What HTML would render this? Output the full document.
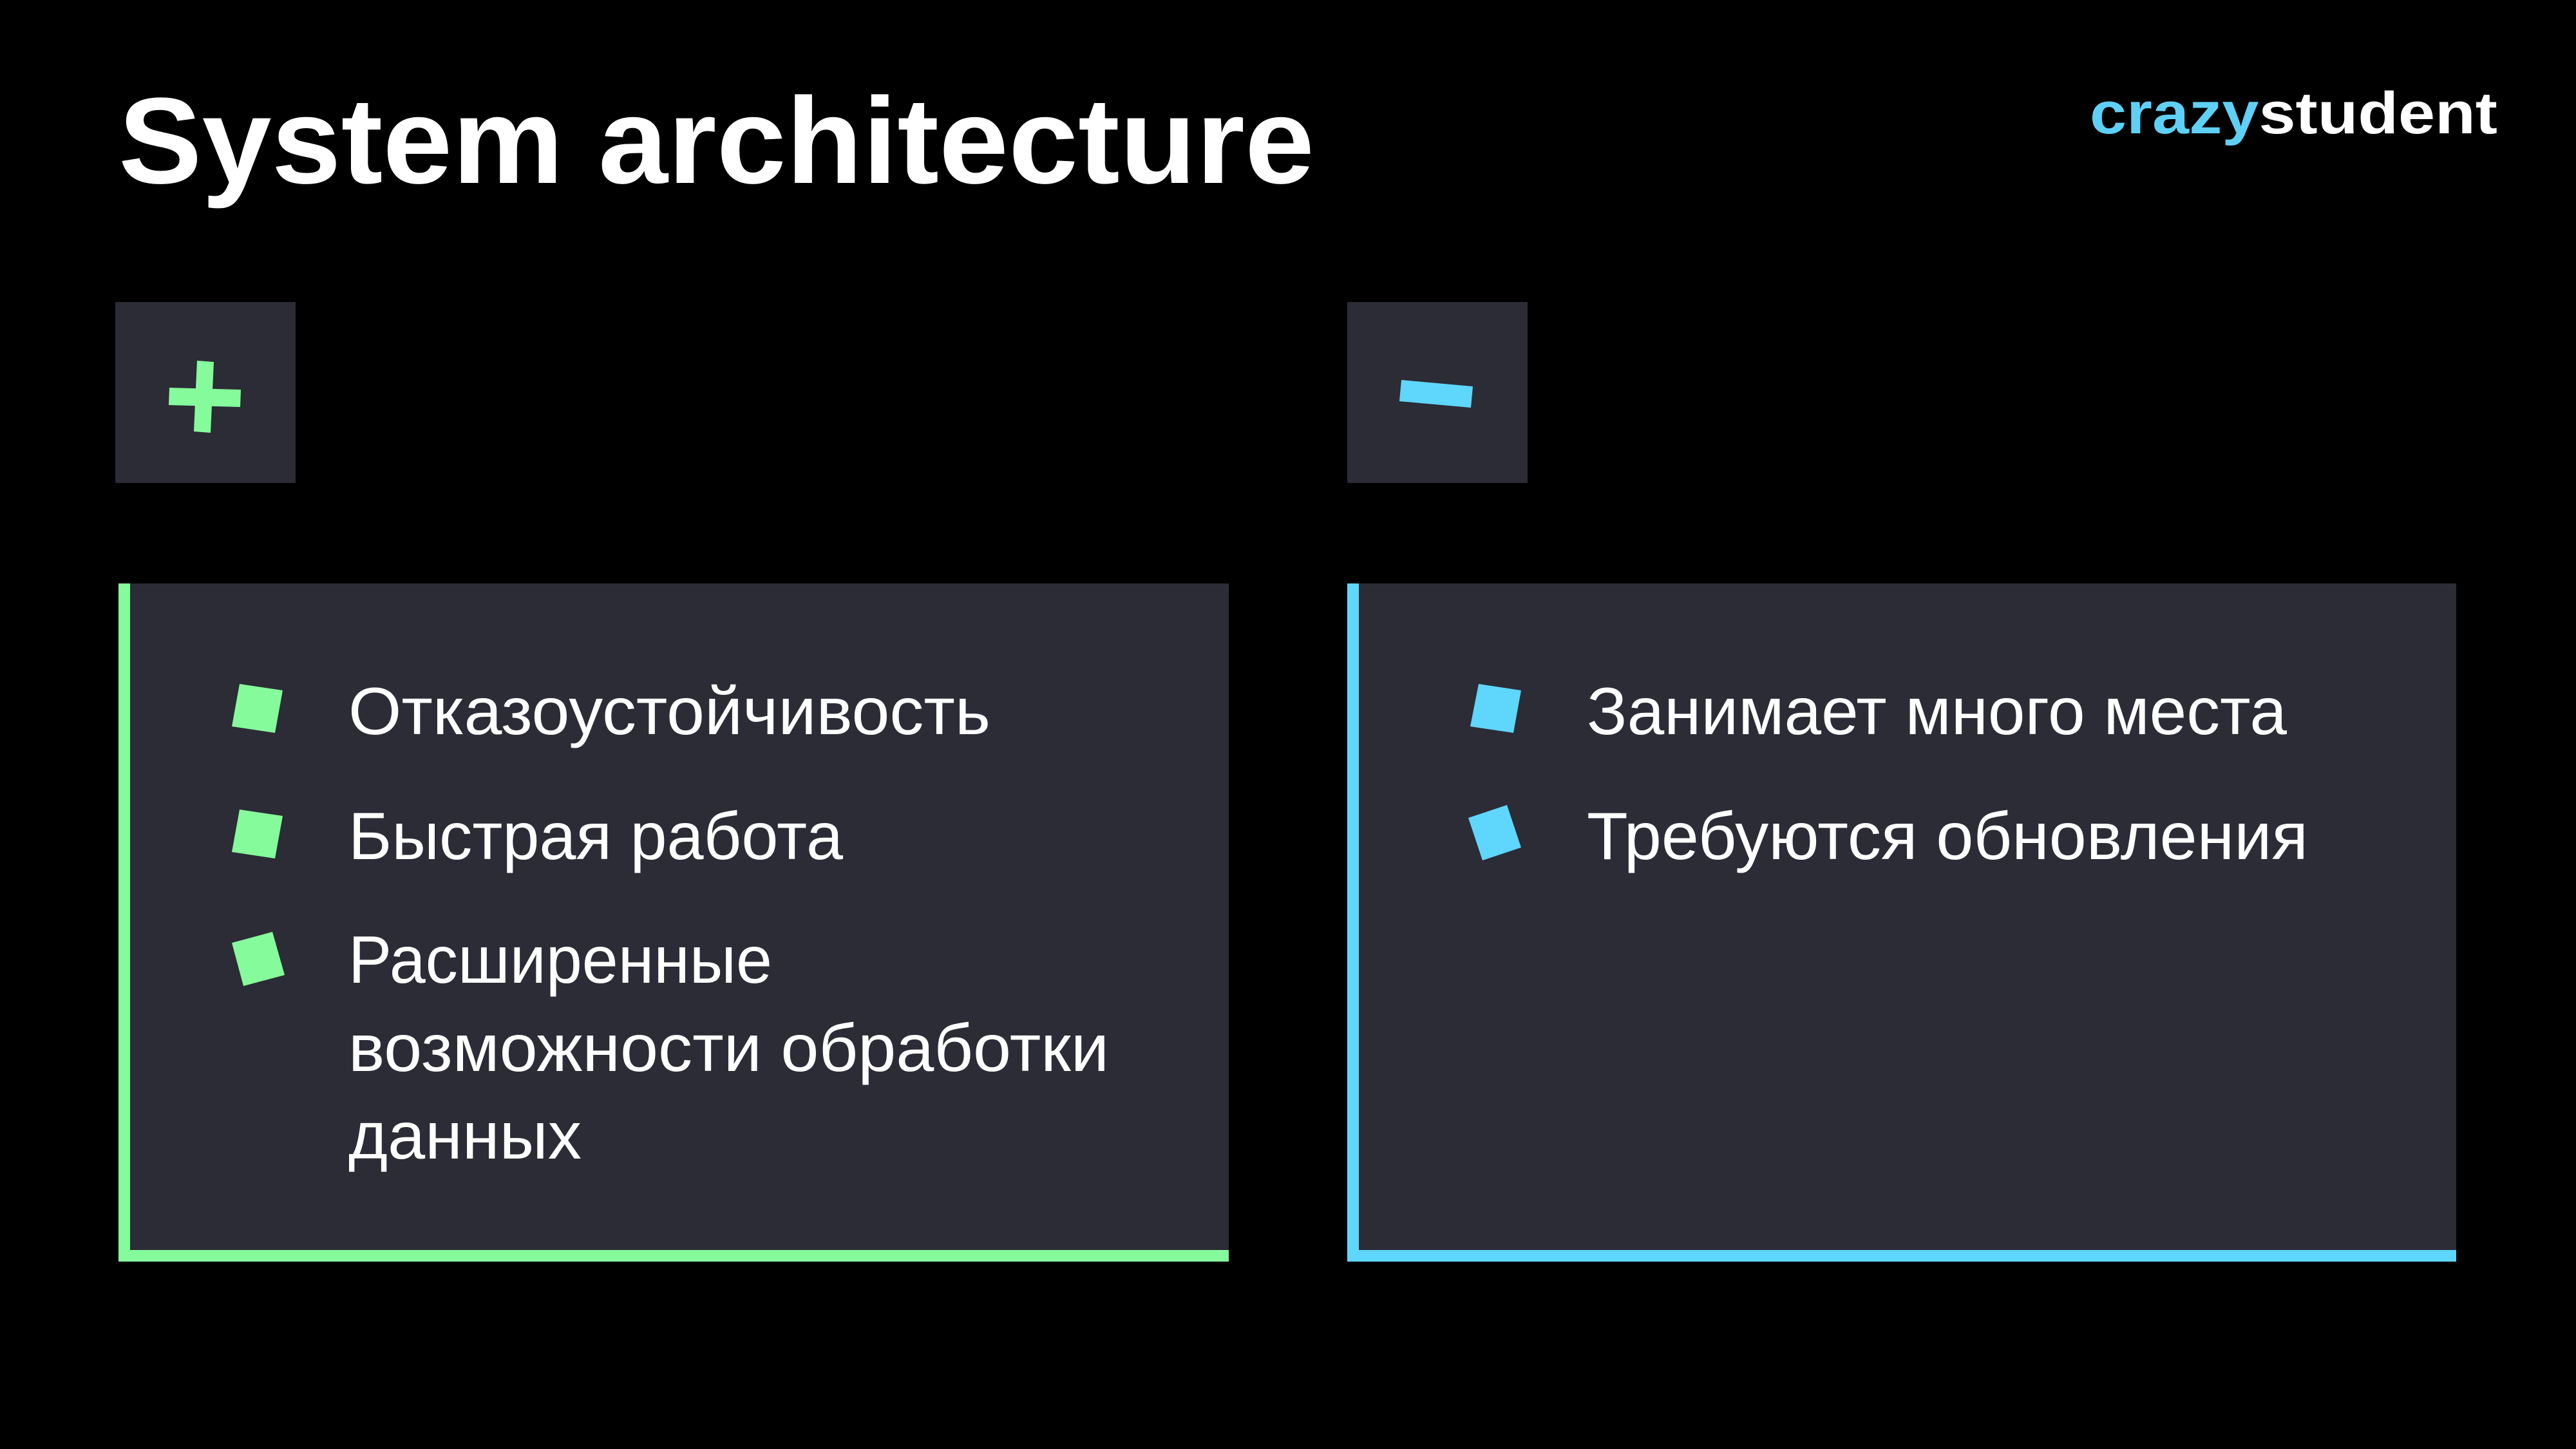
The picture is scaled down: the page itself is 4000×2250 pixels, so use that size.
<!DOCTYPE html>
<html><head><meta charset="utf-8"><style>
html,body{margin:0;padding:0;background:#000;}
svg{display:block}
</style></head><body>
<svg width="4000" height="2250" viewBox="0 0 4000 2250" xmlns="http://www.w3.org/2000/svg">
<rect width="4000" height="2250" fill="#000"/>
<text x="184" y="284" font-family="Liberation Sans, sans-serif" font-weight="bold" font-size="190" fill="#fff" textLength="1857" lengthAdjust="spacingAndGlyphs">System architecture</text>
<text x="3245" y="207" font-family="Liberation Sans, sans-serif" font-weight="bold" font-size="92" textLength="633" lengthAdjust="spacingAndGlyphs"><tspan fill="#5fd0f5">crazy</tspan><tspan fill="#fff">student</tspan></text>
<rect x="179" y="469" width="280" height="281" fill="#2b2c36"/>
<rect x="2092" y="469" width="280" height="281" fill="#2b2c36"/>
<polygon points="306,560 332,562 327,672 301,670" fill="#86fb9b"/>
<polygon points="263,602 374,605 373,632 262,629" fill="#86fb9b"/>
<polygon points="2176,590 2287,600 2284,633 2173,623" fill="#5fd6fb"/>
<rect x="184" y="906" width="1724" height="1053" fill="#2b2c36"/>
<rect x="184" y="906" width="18" height="1053" fill="#86fb9b"/>
<rect x="184" y="1941" width="1724" height="18" fill="#86fb9b"/>
<rect x="2092" y="906" width="1722" height="1053" fill="#2b2c36"/>
<rect x="2092" y="906" width="18" height="1053" fill="#5fd6fb"/>
<rect x="2092" y="1941" width="1722" height="18" fill="#5fd6fb"/>
<g fill="#86fb9b">
<polygon points="372,1062 439,1072 427,1138 360,1128"/>
<polygon points="372,1257 439,1267 427,1333 360,1323"/>
<polygon points="360,1464 423,1447 442,1514 378,1531"/>
</g>
<g fill="#5fd6fb">
<polygon points="2296,1062 2362,1072 2350,1138 2283,1128"/>
<polygon points="2280,1270 2340,1250 2362,1316 2302,1336"/>
</g>
<g font-family="Liberation Sans, sans-serif" font-size="104" fill="#fff" lengthAdjust="spacingAndGlyphs">
<text x="541" y="1140" textLength="997" lengthAdjust="spacingAndGlyphs">Отказоустойчивость</text>
<text x="541" y="1334" textLength="768" lengthAdjust="spacingAndGlyphs">Быстрая работа</text>
<text x="541" y="1526" textLength="658" lengthAdjust="spacingAndGlyphs">Расширенные</text>
<text x="541" y="1663" textLength="1181" lengthAdjust="spacingAndGlyphs">возможности обработки</text>
<text x="541" y="1799" textLength="362" lengthAdjust="spacingAndGlyphs">данных</text>
<text x="2464" y="1140" textLength="1087" lengthAdjust="spacingAndGlyphs">Занимает много места</text>
<text x="2464" y="1334" textLength="1120" lengthAdjust="spacingAndGlyphs">Требуются обновления</text>
</g>
</svg>
</body></html>
